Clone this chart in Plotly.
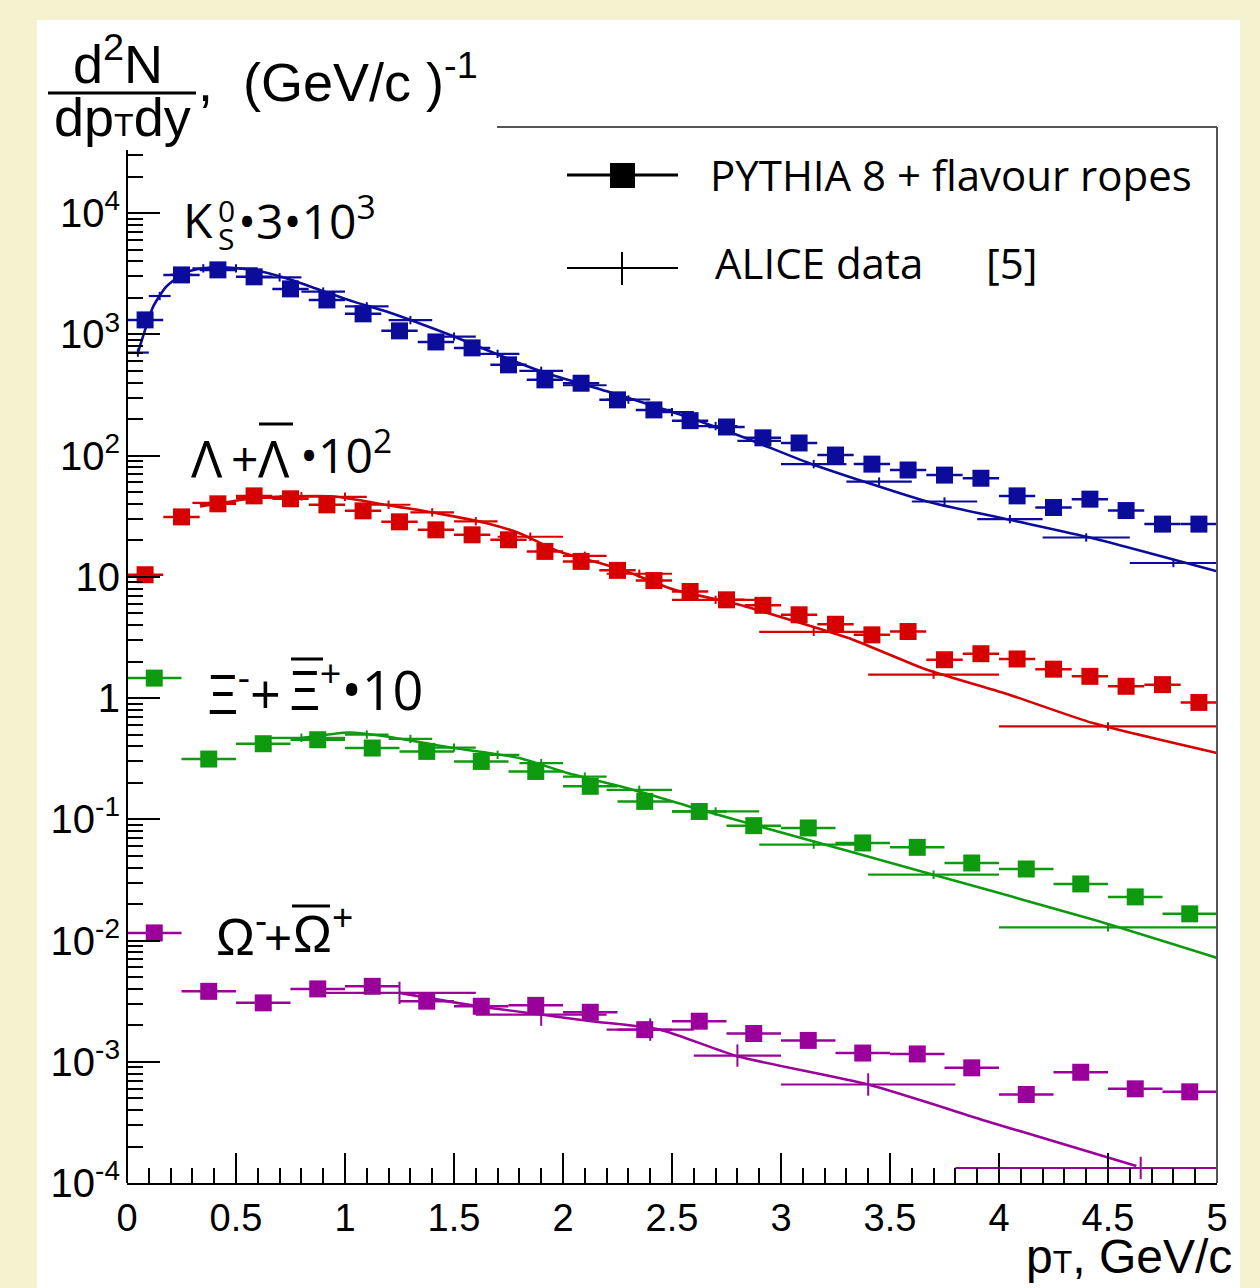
import plotly.graph_objects as go

# ---------------- data ----------------
# PYTHIA 8 + flavour ropes: K0S and Lambda use 1/6-wide bins, Xi and Omega 0.25-wide bins
pt_fine = [0.083, 0.25, 0.417, 0.583, 0.75, 0.917, 1.083, 1.25, 1.417, 1.583,
           1.75, 1.917, 2.083, 2.25, 2.417, 2.583, 2.75, 2.917, 3.083, 3.25,
           3.417, 3.583, 3.75, 3.917, 4.083, 4.25, 4.417, 4.583, 4.75, 4.917]
pt_coarse = [0.125, 0.375, 0.625, 0.875, 1.125, 1.375, 1.625, 1.875, 2.125, 2.375,
             2.625, 2.875, 3.125, 3.375, 3.625, 3.875, 4.125, 4.375, 4.625, 4.875]
halfw_fine = 1 / 12
halfw_coarse = 0.125

pythia_k0s = [1315, 3090, 3400, 2980, 2370, 1920, 1475, 1068, 865, 773,
              560, 421, 395, 288, 238, 194, 172, 140, 127, 101,
              85, 76, 69, 65, 46.5, 37.3, 43.7, 35.2, 27.2, 27.2]
pythia_lambda = [10.4, 31.2, 40.0, 46.5, 44.0, 39.2, 35.0, 28.4, 24.4, 22.2,
                 20.2, 16.2, 13.4, 11.3, 9.31, 7.57, 6.46, 5.82, 4.86, 4.06,
                 3.32, 3.54, 2.07, 2.32, 2.10, 1.73, 1.51, 1.25, 1.29, 0.92]
pythia_xi = [1.46, 0.314, 0.420, 0.453, 0.387, 0.363, 0.300, 0.248, 0.187, 0.1405,
             0.116, 0.0886, 0.0848, 0.0638, 0.0587, 0.0436, 0.0389, 0.0293, 0.0229, 0.0166]
pythia_omega = [0.01155, 0.00381, 0.00306, 0.00399, 0.00419, 0.00316, 0.00287, 0.00292,
                0.00256, 0.00184, 0.00216, 0.00171, 0.00150, 0.00118, 0.00116, 0.000891,
                0.000537, 0.000819, 0.000598, 0.000565]

# ALICE data: bin edges and values
alice_k0s_lo = [0.0, 0.1, 0.2, 0.3, 0.4, 0.6, 0.8, 1.0, 1.2, 1.4, 1.6, 1.8, 2.0, 2.2,
                2.4, 2.6, 2.8, 3.0, 3.3, 3.6, 3.9, 4.2, 4.6]
alice_k0s_hi = [0.1, 0.2, 0.3, 0.4, 0.6, 0.8, 1.0, 1.2, 1.4, 1.6, 1.8, 2.0, 2.2, 2.4,
                2.6, 2.8, 3.0, 3.3, 3.6, 3.9, 4.2, 4.6, 5.0]
alice_k0s = [707, 2070, 3100, 3500, 3500, 2950, 2250, 1700, 1310, 958, 690, 500, 380,
             290, 228, 175, 132, 85, 61, 41.8, 29.9, 21.1, 13.0]

alice_lambda_lo = [0.3, 0.5, 0.7, 0.9, 1.1, 1.3, 1.5, 1.7, 2.0, 2.2, 2.5, 2.9, 3.4, 4.0]
alice_lambda_hi = [0.5, 0.7, 0.9, 1.1, 1.3, 1.5, 1.7, 2.0, 2.2, 2.5, 2.9, 3.4, 4.0, 5.0]
alice_lambda = [40.7, 44.8, 46.1, 45.7, 39.3, 34.0, 28.7, 21.4, 14.9, 10.6, 6.46, 3.52, 1.56, 0.583]

alice_xi_lo = [0.6, 1.0, 1.2, 1.4, 1.6, 1.8, 2.0, 2.2, 2.5, 2.9, 3.4, 4.0]
alice_xi_hi = [1.0, 1.2, 1.4, 1.6, 1.8, 2.0, 2.2, 2.5, 2.9, 3.4, 4.0, 5.0]
alice_xi = [0.47, 0.50, 0.46, 0.39, 0.34, 0.29, 0.225, 0.175, 0.116, 0.0618, 0.0349, 0.01285]

alice_omega_lo = [0.9, 1.6, 2.2, 2.6, 3.0, 3.8]
alice_omega_hi = [1.6, 2.2, 2.6, 3.0, 3.8, 5.5]
alice_omega = [0.0037, 0.00245, 0.00184, 0.001125, 0.000649, 0.000133]

# curves through the ALICE data
curve_k0s_x = [0.05, 0.083, 0.12, 0.18, 0.26, 0.35, 0.43, 0.58, 0.73, 0.885, 1.04, 1.19,
               1.34, 1.50, 1.65, 1.80, 1.925, 2.23, 2.54, 2.84, 3.13, 3.67, 4.05, 4.43, 5.0]
curve_k0s_y = [703, 1087, 1691, 2472, 3190, 3508, 3574, 3396, 2899, 2321, 1861, 1540,
               1235, 958, 743, 578, 478, 327, 217, 139, 86.5, 41.8, 29.5, 20.8, 11.1]
curve_lambda_x = [0.335, 0.58, 0.73, 0.95, 1.19, 1.42, 1.65, 1.80, 1.98, 2.25, 2.51, 2.78,
                  3.09, 3.33, 3.67, 4.05, 4.43, 5.0]
curve_lambda_y = [38.0, 44.5, 45.9, 45.9, 39.2, 33.5, 27.7, 22.9, 16.2, 11.8, 7.81, 6.07,
                  4.15, 3.03, 1.71, 1.06, 0.622, 0.352]
curve_xi_x = [0.8, 1.02, 1.19, 1.50, 1.80, 2.02, 2.32, 2.63, 2.90, 3.67, 4.43, 5.0]
curve_xi_y = [0.468, 0.520, 0.482, 0.387, 0.320, 0.241, 0.175, 0.120, 0.0874, 0.0361,
              0.0149, 0.00719]
curve_omega_x = [1.25, 1.61, 1.90, 2.13, 2.445, 2.80, 3.40, 3.97, 4.63]
curve_omega_y = [0.0037, 0.00287, 0.00245, 0.00216, 0.00184, 0.00111, 0.000649,
                 0.000313, 0.000138]

x_tick_vals = [0, 0.5, 1, 1.5, 2, 2.5, 3, 3.5, 4, 4.5, 5]
x_tick_text = ["0", "0.5", "1", "1.5", "2", "2.5", "3", "3.5", "4", "4.5", "5"]
y_tick_vals = [1e-4, 1e-3, 1e-2, 1e-1, 1, 10, 1e2, 1e3, 1e4]
y_tick_text = ["10<sup>-4</sup>", "10<sup>-3</sup>", "10<sup>-2</sup>", "10<sup>-1</sup>",
               "1", "10", "10<sup>2</sup>", "10<sup>3</sup>", "10<sup>4</sup>"]

BLUE, RED, GREEN, PURPLE = "#0c0c9c", "#d60000", "#0e9a0e", "#9a009a"
CREAM = "#F5F2D0"
ARIAL = "Liberation Sans, Arial, sans-serif"
CALI = "Open Sans, Noto Sans, sans-serif"

# ---------------- figure geometry ----------------
W, H = 1260, 1288
L, R, T, B = 127, 43, 127, 105
PW, PH = W - L - R, H - T - B


def fx(p):
    return (p - L) / PW


def fy(p):
    return (H - B - p) / PH


fig = go.Figure()


def add_species(color, cx, cy, a_lo, a_hi, a_val, p_x, p_y, p_hw, tick):
    fig.add_trace(go.Scatter(x=cx, y=cy, mode="lines",
                             line=dict(color=color, width=2.6, shape="spline", smoothing=0.6),
                             hoverinfo="skip", showlegend=False))
    centers = [(lo + hi) / 2 for lo, hi in zip(a_lo, a_hi)]
    halfs = [(hi - lo) / 2 for lo, hi in zip(a_lo, a_hi)]
    fig.add_trace(go.Scatter(x=centers, y=a_val, mode="markers",
                             marker=dict(symbol="line-ns", size=tick, color=color,
                                         line=dict(color=color, width=2)),
                             error_x=dict(type="data", array=halfs, symmetric=True,
                                          color=color, thickness=2.2, width=0),
                             showlegend=False))
    fig.add_trace(go.Scatter(x=p_x, y=p_y, mode="markers",
                             marker=dict(symbol="square", size=17, color=color),
                             error_x=dict(type="constant", value=p_hw, color=color,
                                          thickness=2.5, width=0),
                             showlegend=False))


add_species(BLUE, curve_k0s_x, curve_k0s_y, alice_k0s_lo, alice_k0s_hi, alice_k0s,
            pt_fine, pythia_k0s, halfw_fine, 6)
add_species(RED, curve_lambda_x, curve_lambda_y, alice_lambda_lo, alice_lambda_hi,
            alice_lambda, pt_fine, pythia_lambda, halfw_fine, 6)
add_species(GREEN, curve_xi_x, curve_xi_y, alice_xi_lo, alice_xi_hi, alice_xi,
            pt_coarse, pythia_xi, halfw_coarse, 6)
add_species(PURPLE, curve_omega_x, curve_omega_y, alice_omega_lo, alice_omega_hi,
            alice_omega, pt_coarse, pythia_omega, halfw_coarse, 16)

minor_y = [k * 10 ** d for d in range(-4, 5) for k in range(2, 10) if k * 10 ** d <= 3e4]

fig.update_layout(
    width=W, height=H,
    margin=dict(l=L, r=R, t=T, b=B, pad=0),
    paper_bgcolor=CREAM, plot_bgcolor="white",
    showlegend=False,
    xaxis=dict(range=[0, 5], showgrid=False, zeroline=False,
               showline=True, linecolor="black", linewidth=2,
               tickmode="array", tickvals=x_tick_vals, ticktext=x_tick_text,
               ticks="inside", ticklen=30, tickwidth=2, tickcolor="black",
               minor=dict(ticks="inside", dtick=0.1, ticklen=15, tickwidth=1.5,
                          tickcolor="black", showgrid=False),
               tickfont=dict(family=ARIAL, size=38, color="black")),
    yaxis=dict(type="log", range=[-4, 4.71], showgrid=False, zeroline=False,
               showline=False,
               tickmode="array", tickvals=y_tick_vals, ticktext=y_tick_text,
               ticks="inside", ticklen=33, tickwidth=2, tickcolor="black",
               ticklabelstandoff=6,
               minor=dict(ticks="inside", tickmode="array", tickvals=minor_y,
                          ticklen=16, tickwidth=1.5, tickcolor="black", showgrid=False),
               tickfont=dict(family=ARIAL, size=40, color="black")),
)

shapes = []
# white panel behind everything
shapes.append(dict(type="rect", xref="paper", yref="paper", x0=fx(37), x1=fx(1240),
                   y0=fy(1300), y1=fy(20), fillcolor="white", line=dict(width=0),
                   layer="below"))
# frame
shapes.append(dict(type="line", xref="paper", yref="paper", x0=fx(497), x1=1, y0=1, y1=1,
                   line=dict(color="#555555", width=2)))
shapes.append(dict(type="line", xref="paper", yref="paper", x0=1, x1=1, y0=0, y1=1,
                   line=dict(color="#555555", width=2)))
shapes.append(dict(type="line", xref="paper", yref="paper", x0=0, x1=0, y0=0, y1=fy(150),
                   line=dict(color="black", width=2)))
# y-title fraction bar
shapes.append(dict(type="line", xref="paper", yref="paper", x0=fx(48), x1=fx(196),
                   y0=fy(93), y1=fy(93), line=dict(color="black", width=3)))
# legend glyphs
shapes.append(dict(type="line", xref="paper", yref="paper", x0=fx(567), x1=fx(678),
                   y0=fy(175), y1=fy(175), line=dict(color="black", width=3)))
shapes.append(dict(type="rect", xref="paper", yref="paper", x0=fx(610), x1=fx(635),
                   y0=fy(188), y1=fy(163), fillcolor="black", line=dict(width=0)))
shapes.append(dict(type="line", xref="paper", yref="paper", x0=fx(567), x1=fx(678),
                   y0=fy(268), y1=fy(268), line=dict(color="black", width=2)))
shapes.append(dict(type="line", xref="paper", yref="paper", x0=fx(622), x1=fx(622),
                   y0=fy(285), y1=fy(252), line=dict(color="black", width=2)))
# overbars
shapes.append(dict(type="line", xref="paper", yref="paper", x0=fx(259), x1=fx(293),
                   y0=fy(424), y1=fy(424), line=dict(color="black", width=3)))
shapes.append(dict(type="line", xref="paper", yref="paper", x0=fx(291), x1=fx(323),
                   y0=fy(659), y1=fy(659), line=dict(color="black", width=3)))
shapes.append(dict(type="line", xref="paper", yref="paper", x0=fx(292), x1=fx(330),
                   y0=fy(906), y1=fy(906), line=dict(color="black", width=3)))
fig.update_layout(shapes=shapes)

anns = []


def ann(text, x, y, size, family, xanchor="left", yanchor="middle"):
    anns.append(dict(text=text, x=fx(x), y=fy(y), xref="paper", yref="paper",
                     xanchor=xanchor, yanchor=yanchor, showarrow=False,
                     font=dict(family=family, size=size, color="black")))


# y-axis title
ann("d<sup>2</sup>N", 118, 60, 54, ARIAL, xanchor="center")
ann("dp<span style='font-size:32px'>T</span>dy", 122, 117, 54, ARIAL, xanchor="center")
ann(",  (GeV/c )<sup>-1</sup>", 196, 78, 54, ARIAL)
# x-axis title
ann("p<span style='font-size:32px'>T</span>, GeV/c", 1234, 1256, 48, ARIAL, xanchor="right")
# legend text
ann("PYTHIA 8 + flavour ropes", 708, 175, 42, CALI)
ann("ALICE data", 713, 262, 42, CALI)
ann("[5]", 984, 262, 42, CALI)
# particle labels
ann("K", 181, 220, 48, CALI)
ann("0", 216, 210, 30, CALI)
ann("S", 216, 238, 30, CALI)
ann("\u20223\u202210<sup>3</sup>", 236, 218, 48, CALI)
ann("\u039b", 189, 457, 52, CALI)
ann("+", 229, 457, 48, CALI)
ann("\u039b", 256, 457, 52, CALI)
ann("\u202210<sup>2</sup>", 298, 452, 48, CALI)
ann("\u039e<sup>-</sup>+", 206, 690, 54, CALI)
ann("\u039e<sup>+</sup>\u202210", 288, 686, 54, CALI)
ann("\u03a9<sup>-</sup>", 214, 933, 52, ARIAL)
ann("+", 262, 937, 48, ARIAL)
ann("\u03a9<sup>+</sup>", 291, 930, 52, ARIAL)
fig.update_layout(annotations=anns)

fig.write_html("out.html",
               config={"displayModeBar": False},
               post_script="document.body.style.margin='0px';"
                           "document.body.style.background='" + CREAM + "';")
